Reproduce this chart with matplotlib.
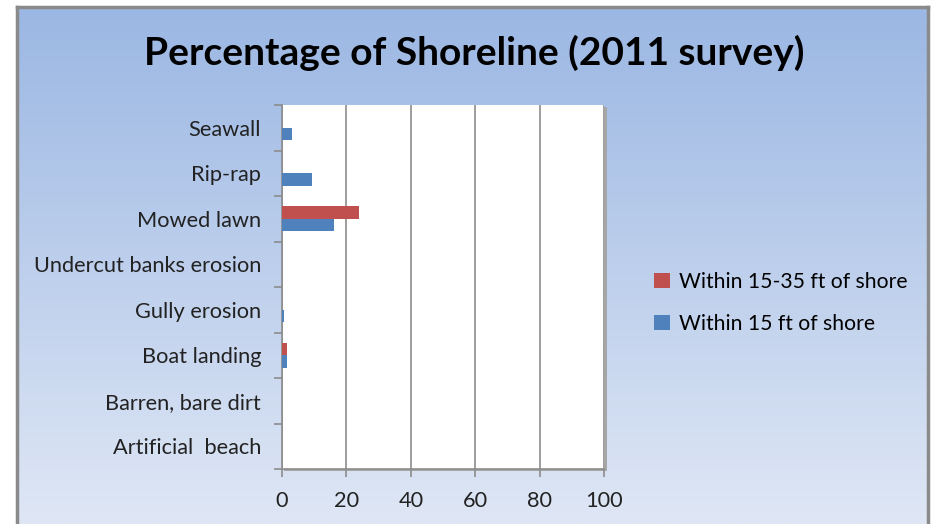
import matplotlib
matplotlib.use("Agg")
import matplotlib.pyplot as plt
import numpy as np

categories = ["Seawall", "Rip-rap", "Mowed lawn", "Undercut banks erosion",
              "Gully erosion", "Boat landing", "Barren, bare dirt", "Artificial  beach"]
within_15_35 = [0, 0, 24.0, 0, 0, 1.6, 0, 0]
within_15 = [3.1, 9.4, 16.2, 0, 0.6, 1.7, 0, 0]
series_names = ["Within 15-35 ft of shore", "Within 15 ft of shore"]
xticks = [0, 20, 40, 60, 80, 100]

W, H = 931, 524
fig = plt.figure(figsize=(W / 100, H / 100), dpi=100)
fig.patch.set_facecolor("white")

# background gradient panel
bx0, by0, bx1, by1 = 17 / W, 0, 928 / W, 1 - 7 / H
bg = fig.add_axes([bx0, by0, bx1 - bx0, by1 - by0], zorder=-5)
top = np.array([0x9b, 0xb7, 0xe3]) / 255
bot = np.array([0xdf, 0xe7, 0xf5]) / 255
t = np.linspace(0, 1, 256)[:, None]
grad = top[None, None, :] * (1 - t[..., None]) + bot[None, None, :] * t[..., None]
grad = np.repeat(grad, 2, axis=1)
bg.imshow(grad, aspect="auto", extent=[0, 1, 0, 1], origin="upper")
bg.set_xlim(0, 1)
bg.set_ylim(0, 1)
bg.set_xticks([])
bg.set_yticks([])
bg.spines["bottom"].set_visible(False)
for s in ["top", "left", "right"]:
    bg.spines[s].set_color("#8a8a8a")
    bg.spines[s].set_linewidth(2.5)

# plot area
L, R, T, B = 282 / W, 604 / W, 1 - 105 / H, 1 - 469 / H
# soft shadow at right of plot area
shadow = fig.add_axes([L + 2 / W, B - 2 / H, R - L + 1 / W, T - B], zorder=-1)
shadow.set_facecolor("#a6a6a6")
shadow.set_xticks([])
shadow.set_yticks([])
for s in shadow.spines.values():
    s.set_visible(False)

ax = fig.add_axes([L, B, R - L, T - B])
ax.set_facecolor("white")

n = len(categories)
y = np.arange(n)[::-1]
h = 0.275
red = "#c0504d"
blue = "#4f81bd"
ax.barh(y + h / 2, within_15_35, height=h, color=red, label=series_names[0], zorder=3)
ax.barh(y - h / 2, within_15, height=h, color=blue, label=series_names[1], zorder=3)

ax.set_xlim(0, 100)
ax.set_ylim(-0.5, n - 0.5)
ax.set_xticks(xticks)
ax.set_xticklabels([str(v) for v in xticks])
ax.set_yticks(y)
ax.set_yticklabels(categories)
ax.set_yticks(np.arange(-0.5, n, 1.0), minor=True)
ax.tick_params(axis="y", which="major", length=0, pad=15)
ax.tick_params(axis="y", which="minor", length=6, color="#8c8c8c", width=1.2)
ax.tick_params(axis="x", which="major", length=6, color="#8c8c8c", width=1.2, pad=10)
ax.grid(axis="x", color="#8c8c8c", linewidth=1.2, zorder=0)
for s in ["top", "right"]:
    ax.spines[s].set_visible(False)
for s in ["left", "bottom"]:
    ax.spines[s].set_color("#8c8c8c")
    ax.spines[s].set_linewidth(1.2)

for lab in ax.get_yticklabels() + ax.get_xticklabels():
    lab.set_fontfamily("Lato")
    lab.set_fontsize(15.7)
    lab.set_color("#222222")

fig.text(0.5 * (143 + 805) / W, 1 - 53 / H, "Percentage of Shoreline (2011 survey)",
         ha="center", va="center", fontsize=28, fontweight="bold", family="Lato", color="black")

handles, labels = ax.get_legend_handles_labels()
leg = fig.legend(handles, labels, loc="center left", bbox_to_anchor=(635 / W, 1 - 303 / H),
                 frameon=False, prop={"family": "Lato", "size": 15.2},
                 handlelength=0.75, handleheight=0.75, handletextpad=0.45, labelspacing=1.05)

fig.savefig("out.png", dpi=100)
